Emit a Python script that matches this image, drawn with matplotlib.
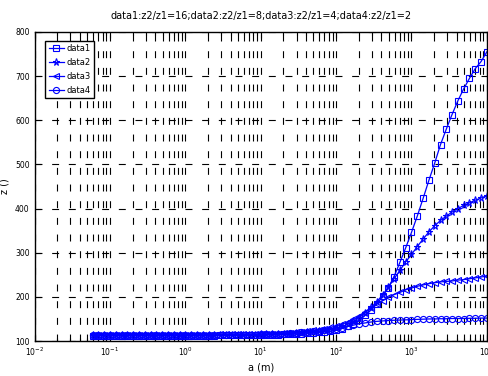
import numpy as np
import matplotlib
matplotlib.use("Agg")
import matplotlib.pyplot as plt
from matplotlib.ticker import LogLocator, FixedLocator

plt.rcParams['font.family'] = ['Liberation Sans Narrow', 'DejaVu Sans']
plt.rcParams['lines.scale_dashes'] = False
plt.rcParams['mathtext.fontset'] = 'custom'
plt.rcParams['mathtext.rm'] = 'Liberation Sans Narrow'

# a values (m), log-spaced sampling
a = [0.0589, 0.0703, 0.0839, 0.1002, 0.1197, 0.1429, 0.1702, 0.2032, 0.2427, 0.2897,
     0.3459, 0.4130, 0.4932, 0.5888, 0.7031, 0.8395, 1.002, 1.194, 1.426, 1.702,
     2.032, 2.427, 2.897, 3.459, 4.130, 4.932, 5.875, 7.015, 8.375, 10.0,
     11.94, 14.26, 17.02, 20.32, 24.27, 28.97, 34.59, 41.30, 49.32, 58.75,
     70.15, 83.75, 100.0, 119.4, 142.6, 170.2, 203.2, 242.7, 289.7, 345.9,
     413.0, 493.2, 587.5, 701.5, 837.5, 1000, 1194, 1426, 1702, 2032,
     2427, 2897, 3451, 4121, 4920, 5875, 7015, 8375, 10000]

data1 = [112, 112, 112, 112, 112, 112, 112, 112, 112, 112,
         112, 112, 112, 112, 112, 112, 112, 112, 112, 112,
         112, 112, 113, 113, 113, 113, 113, 113, 113, 113,
         114, 114, 114, 115, 115, 116, 117, 118, 119, 120,
         121, 122, 124, 128, 133, 139, 147, 158, 170, 184,
         201, 221, 246, 278, 311, 346, 383, 423, 464, 503,
         545, 580, 613, 644, 671, 695, 717, 733, 755]

data2 = [113, 113, 113, 113, 113, 113, 113, 113, 113, 113,
         113, 113, 113, 113, 113, 113, 113, 113, 113, 113,
         113, 113, 113, 114, 114, 114, 114, 114, 114, 115,
         115, 115, 116, 117, 117, 118, 119, 120, 121, 122,
         124, 126, 129, 133, 138, 145, 153, 164, 176, 189,
         204, 222, 241, 260, 279, 296, 314, 331, 347, 361,
         373, 383, 392, 400, 407, 413, 419, 424, 429]

data3 = [114, 114, 114, 114, 114, 114, 114, 114, 114, 114,
         114, 114, 114, 114, 114, 114, 114, 114, 114, 114,
         114, 114, 115, 115, 115, 115, 115, 115, 115, 116,
         116, 116, 117, 118, 119, 120, 121, 122, 124, 126,
         128, 131, 134, 138, 143, 149, 156, 165, 174, 184,
         191, 199, 205, 210, 216, 220, 224, 227, 230, 232,
         234, 235, 236, 238, 239, 241, 243, 245, 247]

data4 = [113, 113, 113, 113, 113, 113, 113, 113, 113, 113,
         113, 113, 113, 113, 113, 113, 113, 113, 113, 113,
         113, 114, 114, 114, 114, 114, 114, 114, 114, 115,
         115, 116, 116, 117, 118, 119, 120, 121, 122, 123,
         124, 125, 127, 130, 133, 136, 139, 141, 143, 144.5,
         145.5, 146.5, 147, 147.5, 148, 148.5, 149, 149.5, 150, 150,
         150.5, 150.5, 151, 151, 151, 151.5, 151.5, 152, 152]

labels = ['data1', 'data2', 'data3', 'data4']
markers = ['s', '*', '<', 'o']
yticks = [100, 200, 300, 400, 500, 600, 700, 800]

fig = plt.figure(figsize=(4.88, 3.76), dpi=100)
ax = fig.add_axes([0.0707, 0.093, 0.927, 0.822])

for y, lab, m in zip([data1, data2, data3, data4], labels, markers):
    ax.plot(a, y, color='blue', lw=0.9, marker=m, ms=5.2 if m == '*' else 4.4,
            mfc='none', mec='blue', mew=0.8, label=lab)

ax.set_xscale('log')
ax.set_xlim(1e-2, 1e4)
ax.set_ylim(100, 800)
ax.yaxis.set_major_locator(FixedLocator(yticks))
ax.xaxis.set_major_locator(LogLocator(base=10, numticks=10))
ax.xaxis.set_minor_locator(LogLocator(base=10, subs=np.arange(2, 10), numticks=20))

grid_kw = dict(color='black', lw=0.8, linestyle=(0, (5, 7)))
ax.grid(True, which='major', axis='both', **grid_kw)
ax.grid(True, which='minor', axis='x', **grid_kw)

ax.tick_params(which='both', direction='in', top=True, right=True, labelsize=5.5, width=0.8)
ax.tick_params(which='major', length=4)
ax.tick_params(which='minor', length=2)
for s in ax.spines.values():
    s.set_linewidth(1.0)

ax.set_title('data1:z2/z1=16;data2:z2/z1=8;data3:z2/z1=4;data4:z2/z1=2', fontsize=7, pad=9)
ax.set_xlabel('a (m)', fontsize=7, labelpad=3)
ax.set_ylabel('z ()', fontsize=7, labelpad=4)

leg = ax.legend(loc='upper left', fontsize=6, fancybox=False, framealpha=1,
                edgecolor='black', borderpad=0.4, labelspacing=0.6,
                handlelength=1.8, handletextpad=0.3, bbox_to_anchor=(0.015, 0.985))
leg.get_frame().set_linewidth(1.0)

fig.savefig('out.png', dpi=100)
